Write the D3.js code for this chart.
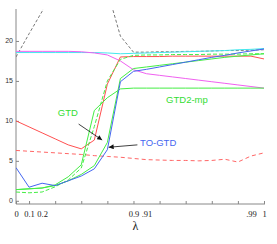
<!DOCTYPE html>
<html>
<head>
<meta charset="utf-8">
<script src="https://cdn.jsdelivr.net/npm/d3@7"></script>
<style>
  body { margin: 0; background: #fff; }
  svg { display: block; }
</style>
</head>
<body>
<div id="chart"></div>
<script>
// lambda values, one per point (index scale on x)
var lambdas = ["0","0.1","0.2","0.3","0.4","0.5","0.6","0.7","0.8","0.9",
               ".91",".92",".93",".94",".95",".96",".97",".98",".99","1"];
var labeledIdx = [0, 1, 2, 9, 10, 18, 19];          // tick labels that are printed
var markIdx = [0, 1, 3, 5, 7, 9, 11, 13, 15, 17, 19]; // tick marks on the x axis
var yTicks = [0, 5, 10, 15, 20];

// series values
var grayDashed = [18.0, 20.9, 23.7, 27.5, 31, 32, 30, 26.3, 20.6, 18.6, 18.6, 18.65, 18.65, 18.7, 18.7, 18.75, 18.8, 18.8, 18.85, 18.9];
var cyanLine   = [18.55, 18.55, 18.55, 18.55, 18.55, 18.55, 18.55, 18.5, 18.4, 18.45, 18.5, 18.55, 18.6, 18.65, 18.7, 18.75, 18.8, 18.9, 18.95, 19.05];
var magenta    = [18.7, 18.7, 18.7, 18.7, 18.7, 18.65, 18.5, 18.25, 17.5, 16.4, 15.9, 15.7, 15.5, 15.3, 15.1, 14.9, 14.7, 14.5, 14.3, 14.1];
var redLine    = [10.0, 9.25, 8.5, 7.75, 7.0, 6.5, 7.6, 14.6, 18.0, 18.05, 18.05, 18.05, 18.1, 18.1, 18.1, 18.1, 18.1, 18.1, 18.1, 17.75];
var redDashed  = [6.3, 6.2, 6.1, 6.0, 5.9, 5.8, 5.65, 5.55, 5.45, 5.3, 5.15, 5.1, 5.05, 5.05, 5.0, 5.05, 5.2, 4.85, 5.6, 6.0];
var toGtd      = [4.15, 1.7, 2.2, 1.9, 2.5, 3.1, 4.0, 6.4, 14.9, 16.2, 16.45, 16.75, 17.05, 17.35, 17.65, 17.95, 18.2, 18.5, 18.75, 19.0];
var gtd        = [1.4, 1.5, 1.6, 1.9, 2.5, 3.3, 4.4, 7.3, 15.3, 16.55, 16.75, 16.95, 17.15, 17.35, 17.55, 17.75, 17.95, 18.1, 18.25, 18.4];
var gtd2mp     = [1.4, 1.5, 1.6, 2.0, 3.0, 4.5, 11.3, 12.9, 14.0, 14.1, 14.1, 14.1, 14.1, 14.1, 14.1, 14.1, 14.1, 14.1, 14.1, 14.1];
var greenDashed= [1.1, 1.0, 1.1, 1.75, 2.6, 4.1, 9.3, 15.0, 17.7, 18.2, 18.25, 18.25, 18.3, 18.3, 18.3, 18.35, 18.35, 18.35, 18.4, 18.4];

var series = [
  {v: grayDashed, c: "#777777", dash: "3,2"},
  {v: redDashed, c: "#ff6666", dash: "4,3"},
  {v: cyanLine, c: "#44e8ee"},
  {v: magenta, c: "#f060f0"},
  {v: redLine, c: "#ff5050"},
  {v: greenDashed, c: "#44ee44", dash: "4,2"},
  {v: gtd2mp, c: "#44ee44"},
  {v: gtd, c: "#44ee44"},
  {v: toGtd, c: "#4466f0"}
];

var W = 277, H = 244;
var margin = {left: 16, right: 13, top: 9, bottom: 40};

var x = d3.scaleLinear().domain([0, lambdas.length - 1]).range([margin.left, W - margin.right]);
var y = d3.scaleLinear().domain([-0.4, 24]).range([H - margin.bottom, margin.top]);

var svg = d3.select("#chart").append("svg")
    .attr("width", W)
    .attr("height", H);

svg.append("defs").append("clipPath").attr("id", "clip")
    .append("rect")
    .attr("x", margin.left).attr("y", margin.top)
    .attr("width", W - margin.left - margin.right + 1)
    .attr("height", H - margin.top - margin.bottom);

svg.append("defs").append("marker")
    .attr("id", "arr")
    .attr("viewBox", "0 0 10 10")
    .attr("refX", 10).attr("refY", 5)
    .attr("markerWidth", 6).attr("markerHeight", 5)
    .attr("markerUnits", "userSpaceOnUse")
    .attr("orient", "auto")
    .append("path").attr("d", "M0,0L10,5L0,10z").attr("fill", "#111");

// x axis: marks and labels drawn separately
var xAxisMarks = d3.axisTop(x).tickValues(markIdx).tickSize(3).tickFormat("");
var gx = svg.append("g")
    .attr("transform", "translate(0," + (H - margin.bottom) + ")")
    .call(xAxisMarks);
gx.select(".domain").attr("d", "M" + margin.left + ",0H" + (W - margin.right + 1));
gx.selectAll("path, line").attr("stroke", "#888");

var xAxisLabels = d3.axisBottom(x).tickValues(labeledIdx).tickSize(0).tickPadding(7)
    .tickFormat(function(i) { return lambdas[i]; });
var gxl = svg.append("g")
    .attr("transform", "translate(0," + (H - margin.bottom) + ")")
    .call(xAxisLabels);
gxl.select(".domain").remove();
gxl.selectAll("text")
    .attr("font-family", "'Liberation Serif', 'DejaVu Serif', serif")
    .attr("font-size", 8.5)
    .attr("fill", "#222");

svg.append("text")
    .attr("x", x(9) + 2)
    .attr("y", H - 14)
    .attr("text-anchor", "middle")
    .attr("font-family", "'Liberation Serif', serif")
    .attr("font-size", 12)
    .attr("fill", "#222")
    .text("λ");

// y axis with inward ticks
var yAxis = d3.axisRight(y).tickValues(yTicks).tickSize(3).tickFormat("");
var gy = svg.append("g")
    .attr("transform", "translate(" + margin.left + ",0)")
    .call(yAxis);
gy.select(".domain").attr("d", "M0," + margin.top + "V" + (H - margin.bottom));
gy.selectAll("path, line").attr("stroke", "#888");

svg.append("g").selectAll("text")
    .data(yTicks)
    .enter().append("text")
    .attr("x", margin.left - 3)
    .attr("y", function(d) { return y(d) + 2.5; })
    .attr("text-anchor", "end")
    .attr("font-family", "'Liberation Sans', Arial, sans-serif")
    .attr("font-size", 7)
    .attr("fill", "#333")
    .text(function(d) { return d; });

// lines
var line = d3.line()
    .x(function(d, i) { return x(i); })
    .y(function(d) { return y(d); });

svg.append("g").attr("clip-path", "url(#clip)")
    .selectAll("path")
    .data(series)
    .enter().append("path")
    .attr("d", function(s) { return line(s.v); })
    .attr("fill", "none")
    .attr("stroke", function(s) { return s.c; })
    .attr("stroke-width", 1)
    .attr("stroke-dasharray", function(s) { return s.dash || null; });

// annotations
svg.append("text")
    .attr("x", x(3.2)).attr("y", y(10.6))
    .attr("font-family", "'Liberation Sans', Arial, sans-serif")
    .attr("font-size", 9.5)
    .attr("fill", "#33dd33")
    .text("GTD");
svg.append("line")
    .attr("x1", x(4.8)).attr("y1", y(9.6))
    .attr("x2", x(6.6)).attr("y2", y(7.6))
    .attr("stroke", "#111").attr("stroke-width", 0.8)
    .attr("marker-end", "url(#arr)");

svg.append("text")
    .attr("x", x(9.5)).attr("y", y(6.8))
    .attr("font-family", "'Liberation Sans', Arial, sans-serif")
    .attr("font-size", 9.5)
    .attr("fill", "#4466f0")
    .text("TO-GTD");
svg.append("line")
    .attr("x1", x(9.3)).attr("y1", y(7.0))
    .attr("x2", x(7.1)).attr("y2", y(6.7))
    .attr("stroke", "#111").attr("stroke-width", 0.8)
    .attr("marker-end", "url(#arr)");

svg.append("text")
    .attr("x", x(11.5)).attr("y", y(12.2))
    .attr("font-family", "'Liberation Sans', Arial, sans-serif")
    .attr("font-size", 9.5)
    .attr("fill", "#33dd33")
    .text("GTD2-mp");
</script>
</body>
</html>
